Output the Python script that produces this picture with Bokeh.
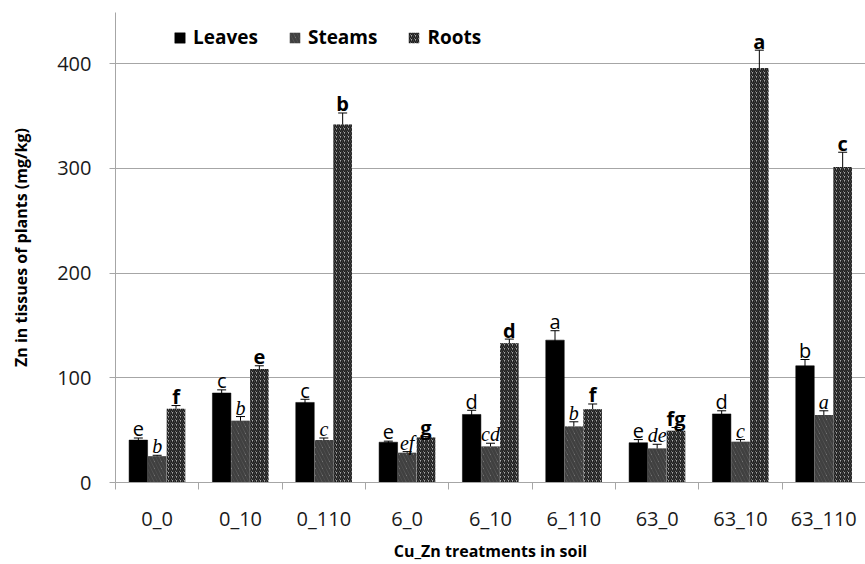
import numpy as np
from bokeh.plotting import figure
from bokeh.models import (ColumnDataSource, Range1d, FixedTicker, Whisker, TeeHead,
                          Legend, LegendItem)
from bokeh.transform import dodge
from bokeh.core.properties import value
from bokeh.embed import file_html
from bokeh.resources import INLINE

treatments = ["0_0", "0_10", "0_110", "6_0", "6_10", "6_110", "63_0", "63_10", "63_110"]
leaves = [40.5, 85.5, 76.5, 38.5, 65, 136, 38, 65.5, 111.5]
leaves_err = [2, 3, 3, 1, 4, 9, 3, 3, 6]
steams = [25, 59, 40.5, 28.5, 34.5, 53.5, 32.5, 39, 64.5]
steams_err = [1, 4, 2, 1, 3, 4.5, 4, 2, 4]
roots = [70.5, 108.5, 342, 43, 133, 70, 49.5, 396, 301.5]
roots_err = [3, 3, 11, 1, 4, 5, 3, 17, 14]
leaves_letters = ["e", "c", "c", "e", "d", "a", "e", "d", "b"]
steams_letters = ["b", "b", "c", "ef", "cd", "b", "de", "c", "a"]
roots_letters = ["f", "e", "b", "g", "d", "f", "fg", "a", "c"]

FONT = "Open Sans"
n = len(treatments)
xc = np.arange(n) + 0.5

p = figure(width=865, height=564, output_backend="svg", toolbar_location=None,
           x_range=Range1d(0, n), y_range=Range1d(0, 449),
           min_border_left=115, min_border_right=0, min_border_top=12, min_border_bottom=82)
p.outline_line_color = None
p.background_fill_color = "white"
p.border_fill_color = "white"

series = [
    ("Leaves", leaves, leaves_err, leaves_letters, -0.226,
     dict(fill_color="black", line_color="black", line_width=0.5),
     dict(text_font_style="normal", text_font=value(FONT), text_font_size="20px")),
    ("Steams", steams, steams_err, steams_letters, 0.0,
     dict(fill_color="#999999", line_color=None, hatch_pattern="left_diagonal_line",
          hatch_color="#404040", hatch_scale=7, hatch_weight=3),
     dict(text_font_style="italic", text_font=value("Liberation Serif"), text_font_size="20px")),
    ("Roots", roots, roots_err, roots_letters, 0.226,
     dict(fill_color="#a8a8a8", line_color=None, hatch_pattern="right_diagonal_line",
          hatch_color="#1a1a1a", hatch_scale=4, hatch_weight=1.6),
     dict(text_font_style="bold", text_font=value(FONT), text_font_size="20px")),
]

items = []
for name, vals, errs, letters, off, style, tstyle in series:
    vals = np.array(vals, dtype=float)
    errs = np.array(errs, dtype=float)
    src = ColumnDataSource(dict(x=xc, top=vals, upper=vals + errs, lower=vals - errs,
                                lab=letters))
    r = p.vbar(x=dodge("x", off, range=p.x_range), top="top", bottom=0, width=0.222,
               source=src, **style)
    items.append(LegendItem(label=name, renderers=[r]))
    w = Whisker(base=dodge("x", off, range=p.x_range), upper="upper", lower="lower",
                source=src, line_color="black", line_width=1,
                upper_head=TeeHead(size=9, line_color="black", line_width=1),
                lower_head=TeeHead(size=9, line_color="black", line_width=1))
    p.add_layout(w)
    p.text(x=dodge("x", off, range=p.x_range), y="upper", text="lab", source=src,
           text_align="center", text_baseline="alphabetic", y_offset=-9,
           text_color="black", **tstyle)

legend = Legend(items=items, orientation="horizontal", location=(58, 432),
                background_fill_alpha=0, border_line_color=None,
                glyph_width=13, glyph_height=13, label_standoff=7, spacing=30,
                padding=0, margin=0,
                label_text_font=FONT, label_text_font_style="bold",
                label_text_font_size="19px", label_text_color="black")
p.add_layout(legend)

# grid
p.xgrid.grid_line_color = None
p.ygrid.grid_line_color = "#a6a6a6"
p.ygrid.grid_line_width = 1
p.yaxis.ticker = FixedTicker(ticks=[0, 100, 200, 300, 400])

# y axis
ya = p.yaxis[0]
ya.axis_line_color = "#a6a6a6"
ya.major_tick_line_color = "#a6a6a6"
ya.major_tick_out = 6
ya.major_tick_in = 0
ya.minor_tick_line_color = None
ya.major_label_text_font = FONT
ya.major_label_text_font_size = "20px"
ya.major_label_text_color = "#1a1a1a"
ya.major_label_standoff = 18
ya.axis_label = "Zn in tissues of plants (mg/kg)"
ya.axis_label_text_font = FONT
ya.axis_label_text_font_style = "bold"
ya.axis_label_text_font_size = "16px"
ya.axis_label_text_color = "black"
ya.axis_label_standoff = 22

# x axis
xa = p.xaxis[0]
xa.ticker = FixedTicker(ticks=list(xc), minor_ticks=list(range(n + 1)))
xa.major_label_overrides = {float(x): t for x, t in zip(xc, treatments)}
xa.axis_line_color = "#a6a6a6"
xa.major_tick_line_color = None
xa.minor_tick_line_color = "#a6a6a6"
xa.minor_tick_out = 7
xa.minor_tick_in = 0
xa.major_label_text_font = FONT
xa.major_label_text_font_size = "20px"
xa.major_label_text_color = "#1a1a1a"
xa.major_label_standoff = 15
xa.axis_label = "Cu_Zn treatments in soil"
xa.axis_label_text_font = FONT
xa.axis_label_text_font_style = "bold"
xa.axis_label_text_font_size = "16px"
xa.axis_label_text_color = "black"
xa.axis_label_standoff = 5

open("out.html", "w").write(file_html(p, INLINE))
